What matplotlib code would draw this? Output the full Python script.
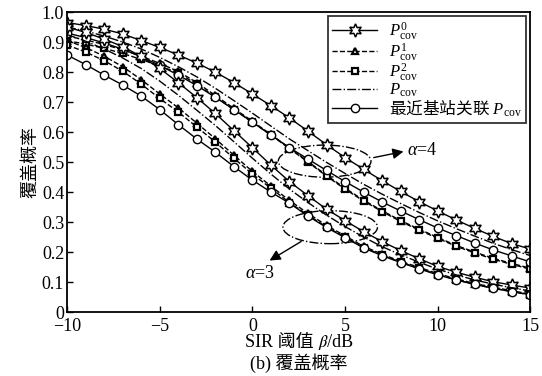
import numpy as np
import matplotlib
matplotlib.use("Agg")
import matplotlib.pyplot as plt
from matplotlib.patches import Ellipse

plt.rcParams['font.family'] = ['Liberation Serif', 'STIXGeneral', 'Noto Sans CJK SC']
plt.rcParams['mathtext.fontset'] = 'custom'
plt.rcParams['mathtext.rm'] = 'Liberation Serif'
plt.rcParams['mathtext.it'] = 'Liberation Serif:italic'
plt.rcParams['mathtext.bf'] = 'Liberation Serif:bold'
plt.rcParams['mathtext.sf'] = 'Noto Sans CJK SC'
plt.rcParams['mathtext.fallback'] = 'stix'

beta_db = list(range(-10, 16))

# alpha = 4
p0_a4 = [0.965, 0.955, 0.943, 0.927, 0.905, 0.882, 0.857, 0.830, 0.800, 0.765, 0.727, 0.688, 0.647,
         0.603, 0.558, 0.515, 0.476, 0.438, 0.402, 0.368, 0.337, 0.307, 0.279, 0.252, 0.228, 0.210]
p1_a4 = [0.920, 0.907, 0.892, 0.874, 0.853, 0.829, 0.802, 0.765, 0.722, 0.679, 0.636, 0.592, 0.547,
         0.502, 0.456, 0.413, 0.373, 0.338, 0.305, 0.276, 0.249, 0.222, 0.200, 0.179, 0.162, 0.146]
p2_a4 = [0.905, 0.893, 0.879, 0.862, 0.842, 0.820, 0.797, 0.759, 0.717, 0.675, 0.633, 0.590, 0.545,
         0.500, 0.453, 0.410, 0.370, 0.335, 0.302, 0.273, 0.246, 0.219, 0.197, 0.176, 0.159, 0.143]
pc_a4 = [0.950, 0.937, 0.920, 0.900, 0.877, 0.849, 0.818, 0.784, 0.746, 0.705, 0.663, 0.620, 0.577,
         0.538, 0.499, 0.462, 0.426, 0.393, 0.362, 0.332, 0.304, 0.278, 0.253, 0.229, 0.208, 0.188]
near_a4 = [0.930, 0.915, 0.897, 0.876, 0.851, 0.822, 0.790, 0.755, 0.716, 0.675, 0.633, 0.590, 0.548,
           0.510, 0.472, 0.435, 0.400, 0.367, 0.337, 0.308, 0.280, 0.255, 0.230, 0.207, 0.187, 0.167]

# alpha = 3
p0_a3 = [0.950, 0.932, 0.910, 0.885, 0.852, 0.812, 0.765, 0.715, 0.662, 0.605, 0.548, 0.490, 0.435,
         0.388, 0.343, 0.305, 0.268, 0.235, 0.205, 0.178, 0.152, 0.133, 0.116, 0.101, 0.090, 0.080]
p1_a3 = [0.905, 0.882, 0.853, 0.818, 0.775, 0.727, 0.681, 0.630, 0.578, 0.523, 0.469, 0.420, 0.372,
         0.329, 0.289, 0.254, 0.219, 0.193, 0.169, 0.149, 0.128, 0.111, 0.095, 0.083, 0.071, 0.060]
p2_a3 = [0.890, 0.867, 0.838, 0.803, 0.760, 0.712, 0.667, 0.617, 0.567, 0.513, 0.460, 0.413, 0.365,
         0.323, 0.284, 0.250, 0.215, 0.190, 0.166, 0.146, 0.125, 0.108, 0.092, 0.080, 0.068, 0.057]
pc_a3 = [0.925, 0.903, 0.877, 0.847, 0.812, 0.770, 0.723, 0.673, 0.622, 0.568, 0.513, 0.460, 0.410,
         0.365, 0.323, 0.285, 0.250, 0.218, 0.191, 0.166, 0.143, 0.124, 0.107, 0.093, 0.081, 0.070]
near_a3 = [0.857, 0.825, 0.790, 0.757, 0.720, 0.675, 0.625, 0.577, 0.533, 0.485, 0.440, 0.400, 0.363,
           0.320, 0.282, 0.248, 0.214, 0.188, 0.165, 0.144, 0.124, 0.107, 0.092, 0.079, 0.068, 0.058]

labels = [r'$P^{0}_{\rm cov}$', r'$P^{1}_{\rm cov}$', r'$P^{2}_{\rm cov}$', r'$P_{\rm cov}$',
          r'$\mathsf{最近基站关联}\ P_{\rm cov}$']
xticks = [-10, -5, 0, 5, 10, 15]
xticklabels = ['\u221210', '\u22125', '0', '5', '10', '15']
yticks = [0, 0.1, 0.2, 0.3, 0.4, 0.5, 0.6, 0.7, 0.8, 0.9, 1.0]
yticklabels = ['0', '0.1', '0.2', '0.3', '0.4', '0.5', '0.6', '0.7', '0.8', '0.9', '1.0']

fig = plt.figure(figsize=(5.42, 3.76), dpi=100)
ax = fig.add_axes([0.1236, 0.170, 0.855, 0.798])

star = (6, 1, 0)
styles = [
    dict(ls='-', marker=star, ms=9.5, mfc='white', mec='black', mew=1.1),
    dict(ls='--', marker='^', ms=5, mfc='white', mec='black', mew=1.6),
    dict(ls='--', marker='s', ms=4.5, mfc='white', mec='black', mew=1.6),
    dict(ls='-.', marker=None),
    dict(ls='-', marker='o', ms=6, mfc='white', mec='black', mew=1.0),
]
series_a4 = [p0_a4, p1_a4, p2_a4, pc_a4, near_a4]
series_a3 = [p0_a3, p1_a3, p2_a3, pc_a3, near_a3]

handles = []
for s, st, lab in zip(series_a4, styles, labels):
    h, = ax.plot(beta_db, s, color='black', lw=1.0, label=lab, **st)
    handles.append(h)
for s, st in zip(series_a3, styles):
    ax.plot(beta_db, s, color='black', lw=1.0, **st)

ax.set_xlim(-10, 15)
ax.set_ylim(0, 1.0)
ax.set_xticks(xticks)
ax.set_xticklabels(xticklabels)
ax.set_yticks(yticks)
ax.set_yticklabels(yticklabels)
ax.tick_params(direction='in', length=4, width=1.0, labelsize=13, pad=2)
ax.tick_params(axis='x', pad=4)
for sp in ax.spines.values():
    sp.set_linewidth(1.3)

ax.set_xlabel('SIR 阈值 \U0001D6FD/dB', fontsize=13, labelpad=-1)
ax.set_ylabel('覆盖概率', fontsize=13, labelpad=2)

leg = ax.legend(handles=handles, loc='upper right', fontsize=12, frameon=True,
                fancybox=False, edgecolor='black', handlelength=2.7, handletextpad=0.7,
                borderaxespad=0.25, labelspacing=-0.08, borderpad=0.25)
leg.get_frame().set_linewidth(1.3)

# annotations
e4 = Ellipse((3.9, 0.503), 5.0, 0.107, fill=False, ls='-.', lw=1.0, color='black')
e3 = Ellipse((4.2, 0.283), 5.1, 0.11, fill=False, ls='-.', lw=1.0, color='black')
ax.add_patch(e4)
ax.add_patch(e3)
ax.annotate('', xy=(8.3, 0.537), xytext=(6.4, 0.513),
            arrowprops=dict(arrowstyle='-|>', color='black', lw=1.0, mutation_scale=16))
ax.annotate('', xy=(0.8, 0.167), xytext=(2.76, 0.24),
            arrowprops=dict(arrowstyle='-|>', color='black', lw=1.0, mutation_scale=16))
ax.text(8.35, 0.54, r'$\alpha$=4', fontsize=13, ha='left', va='center')
ax.text(0.4, 0.13, r'$\alpha$=3', fontsize=13, ha='center', va='center')

fig.text(0.552, 0.035, '(b) 覆盖概率', fontsize=13, ha='center', va='center')

fig.savefig('out.png', dpi=100)
